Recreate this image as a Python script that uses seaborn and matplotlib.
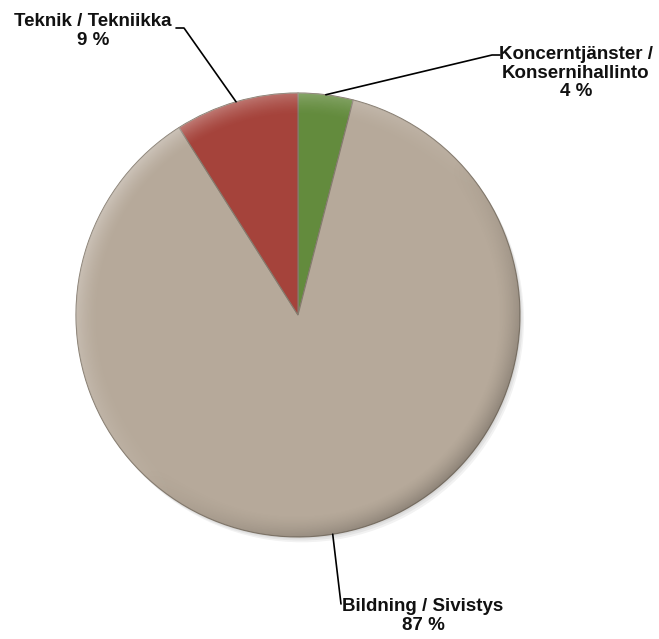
import numpy as np
import matplotlib.pyplot as plt
import seaborn as sns
from matplotlib.patches import Circle

# slice data, clockwise from 12 o'clock
categories = ["Koncerntjänster /\nKonsernihallinto", "Bildning / Sivistys", "Teknik / Tekniikka"]
shares = [4, 87, 9]
slice_colors = ["#638B3D", "#B6A99A", "#A5433B"]

# label placement (pixel centres of each text block and the end of its leader line)
label_pos = [(576, 73), (423, 616), (93, 31)]
leader_end = [[(492, 55), (500, 55)], [(341, 604)], [(184, 28), (176, 28)]]

W, H = 659, 639
CX, CY, R = 298, 315, 222

sns.set_theme(style="white")
plt.rcParams["font.family"] = ["Liberation Sans", "DejaVu Sans"]


def px(x, y):
    return ((x - CX) / R, (CY - y) / R)


fig = plt.figure(figsize=(W / 100, H / 100), dpi=100)
ax = fig.add_axes([0, 0, 1, 1])

# soft drop shadow
for i in range(3):
    ax.add_patch(Circle((0.006 * (i + 1), -0.008 * (i + 1)), 1.0, color="black", alpha=0.05, lw=0, zorder=0))

wedges, _ = ax.pie(shares, colors=slice_colors, startangle=90, counterclock=False, radius=1,
                   wedgeprops=dict(edgecolor="#857B6E", linewidth=0.8, zorder=1))

# bevel shading on the rim
n = 500
g = np.linspace(-1, 1, n)
xx, yy = np.meshgrid(g, g[::-1])
rr = np.hypot(xx, yy)
t = np.clip((rr - 0.9) / 0.1, 0, 1) ** 1.5
d = (-xx + yy) / np.maximum(rr, 1e-6) / np.sqrt(2)
light = np.zeros((n, n, 4))
light[..., :3] = 1
light[..., 3] = 0.25 * t * np.clip(d + 0.2, 0, None)
dark = np.zeros((n, n, 4))
dark[..., 3] = 0.22 * t * np.clip(-d, 0, None)
clip = Circle((0, 0), 1.0, transform=ax.transData)
for img in (light, dark):
    im = ax.imshow(img, extent=(-1, 1, -1, 1), zorder=2, interpolation="bilinear")
    im.set_clip_path(clip)

# leader lines and labels
for w, cat, val, pos, ends in zip(wedges, categories, shares, label_pos, leader_end):
    mid = np.deg2rad((w.theta1 + w.theta2) / 2)
    pts = [(np.cos(mid), np.sin(mid))] + [px(*p) for p in ends]
    ax.plot([p[0] for p in pts], [p[1] for p in pts], color="black", lw=1.2, zorder=3)
    ax.text(*px(*pos), f"{cat}\n{val} %", ha="center", va="center", fontsize=13.5,
            fontweight="bold", linespacing=1.1, color="#111111", zorder=4)

ax.set_xlim(-CX / R, (W - CX) / R)
ax.set_ylim(-(H - CY) / R, CY / R)
ax.set_aspect("equal")
ax.axis("off")

fig.savefig("out.png", dpi=100)
plt.close()
